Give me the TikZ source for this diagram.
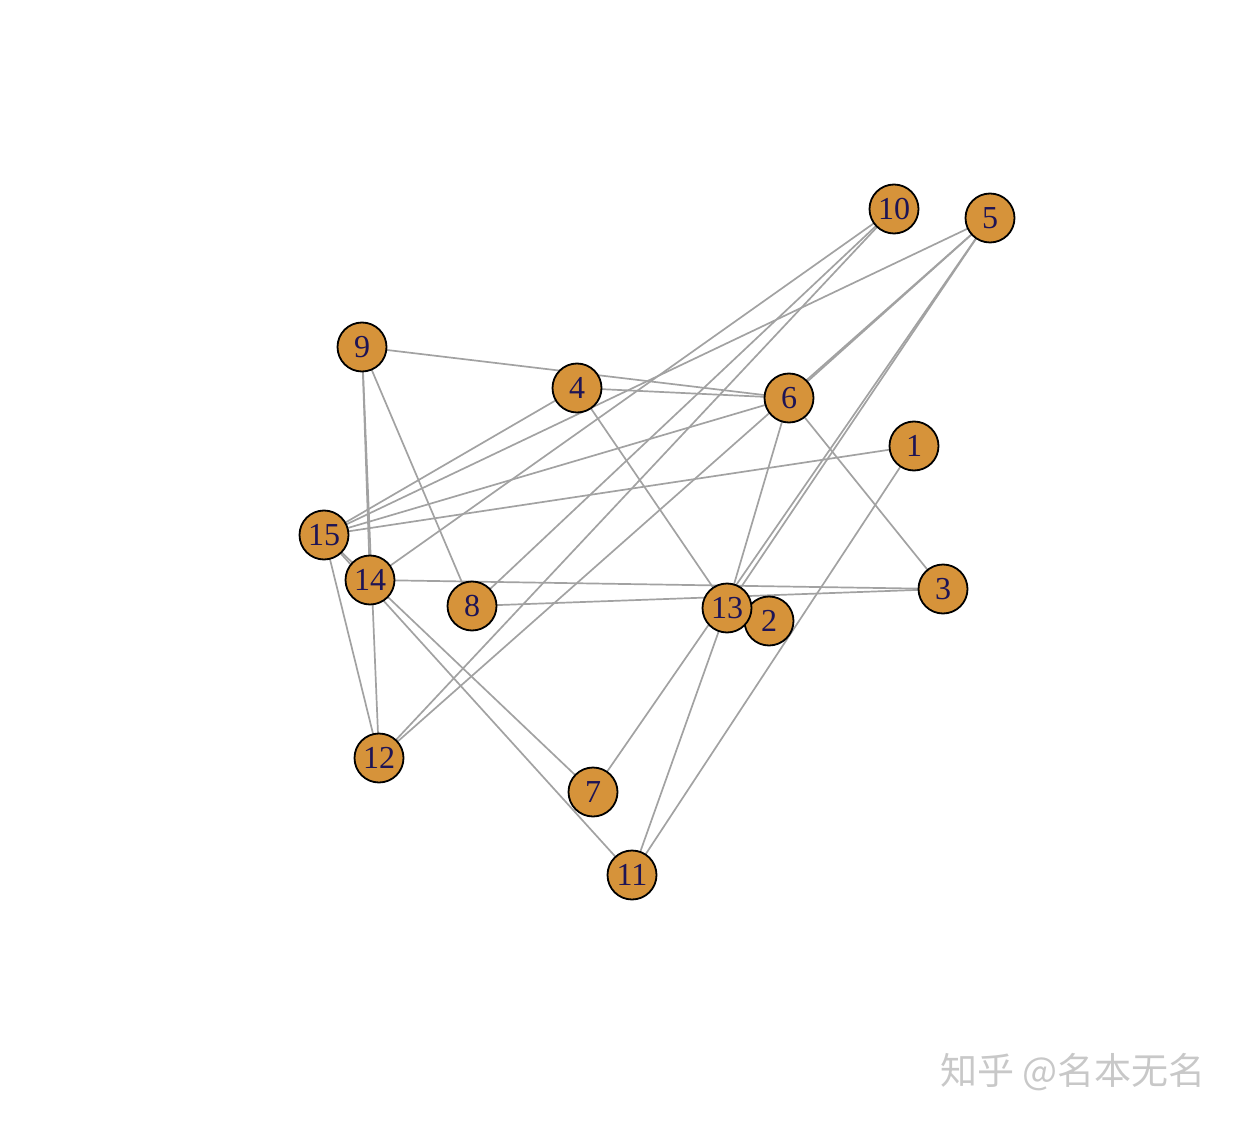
\documentclass[tikz,border=0pt]{standalone}
\usepackage{fontspec}
\setmainfont{Liberation Serif}
\newfontfamily\cjk{Noto Sans CJK SC}
\usetikzlibrary{backgrounds}
\definecolor{vfill}{RGB}{214,147,58}
\definecolor{vlabel}{RGB}{30,20,85}
\definecolor{egray}{RGB}{162,162,162}
\definecolor{wmark}{RGB}{200,200,200}
\tikzset{
  vtx/.style={circle, draw=black, line width=0.9pt, fill=vfill, minimum size=24.5pt, inner sep=0pt,
    text=vlabel, font=\fontsize{16}{18}\selectfont},
  edg/.style={draw=egray, line width=0.85pt},
  wm/.style={text=wmark, font=\cjk\fontsize{18.5}{21}\selectfont, inner sep=0pt}
}
\begin{document}
\begin{tikzpicture}[x=0.5pt, y=-0.5pt]
\useasboundingbox (0,0) rectangle (1240,1122);
\node[vtx] (n10) at (894,209) {10};
\node[vtx] (n5) at (990,218) {5};
\node[vtx] (n9) at (362,347) {9};
\node[vtx] (n4) at (577,388) {4};
\node[vtx] (n6) at (789,398) {6};
\node[vtx] (n1) at (914,446) {1};
\node[vtx] (n15) at (324,535) {15};
\node[vtx] (n14) at (370,580) {14};
\node[vtx] (n8) at (472,606) {8};
\node[vtx] (n3) at (943,589) {3};
\node[vtx] (n2) at (769,621) {2};
\node[vtx] (n13) at (727,608) {13};
\node[vtx] (n12) at (379,758) {12};
\node[vtx] (n7) at (593,792) {7};
\node[vtx] (n11) at (632,875) {11};
\node[wm] (wm) at (1073,1072) {知乎 @名本无名};
\begin{pgfonlayer}{background}
\foreach \a/\b in {9/6, 4/6, 9/14, 9/12, 9/8, 15/4, 15/5, 15/6, 15/1, 15/14, 15/11,
  15/12, 14/3, 14/7, 10/14, 8/3, 10/8, 10/12, 5/12, 5/6, 5/13, 5/7, 4/13, 6/13,
  6/3, 1/11, 13/11}
  \draw[edg] (n\a.center) -- (n\b.center);
\end{pgfonlayer}
\end{tikzpicture}
\end{document}
